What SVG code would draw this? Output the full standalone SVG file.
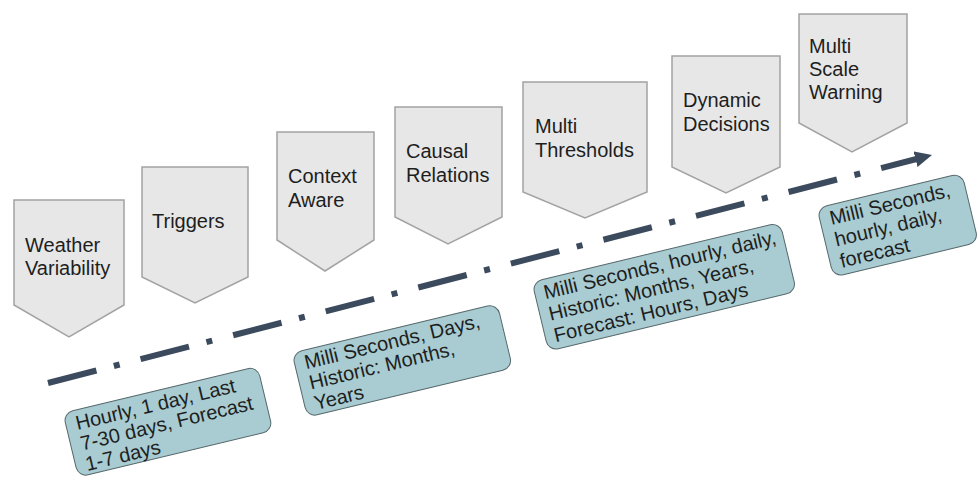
<svg xmlns="http://www.w3.org/2000/svg" width="978" height="480" viewBox="0 0 978 480">
<defs>
<style>
.pent{fill:#e7e7e7;stroke:#a3a3a3;stroke-width:1.5}
.box{fill:#a8ccd1;stroke:#56686c;stroke-width:1}
text{font-family:"Liberation Sans",Arial,sans-serif;font-size:20px;fill:#1e1e1e}
.flow{fill:none;stroke:#3c4a5d;stroke-width:6;stroke-dasharray:50 18 6 21.6}
</style>
<marker id="ah" markerUnits="userSpaceOnUse" markerWidth="18" markerHeight="18" refX="1" refY="8" orient="auto">
<path d="M0,0 L17,8 L0,16 Z" fill="#3c4a5d"/>
</marker>
</defs>
<rect width="978" height="480" fill="#ffffff"/>
<g id="connectors">
<path class="flow" d="M48,383 L916.5,159" marker-end="url(#ah)"/>
</g>
<g id="n-weather">
<polygon class="pent" points="14,200 124,200 124,305 69,337 14,305"/>
<text x="25" y="252">Weather</text>
<text x="25" y="275">Variability</text>
</g>
<g id="n-triggers">
<polygon class="pent" points="142,167 248,167 248,277 195,303 142,277"/>
<text x="152" y="228">Triggers</text>
</g>
<g id="n-context">
<polygon class="pent" points="277,132 374,132 374,240 325,271 277,240"/>
<text x="288" y="183">Context</text>
<text x="288" y="207">Aware</text>
</g>
<g id="n-causal">
<polygon class="pent" points="395,107 502,107 502,217 448,244 395,217"/>
<text x="406" y="158">Causal</text>
<text x="406" y="182">Relations</text>
</g>
<g id="n-thresholds">
<polygon class="pent" points="523,82 647,82 647,192 585,218 523,192"/>
<text x="535" y="133">Multi</text>
<text x="535" y="157">Thresholds</text>
</g>
<g id="n-dynamic">
<polygon class="pent" points="672,56 780,56 780,167 726,193 672,167"/>
<text x="683" y="107">Dynamic</text>
<text x="683" y="131">Decisions</text>
</g>
<g id="n-warning">
<polygon class="pent" points="799,14 907,14 907,123 852,152 799,123"/>
<text x="809" y="53">Multi</text>
<text x="809" y="76">Scale</text>
<text x="809" y="99">Warning</text>
</g>
<g id="b-1" transform="translate(63,413) rotate(-13.5)">
<rect class="box" x="0" y="0" width="200" height="66" rx="10"/>
<text x="10" y="20">Hourly, 1 day, Last</text>
<text x="10" y="41">7-30 days, Forecast</text>
<text x="10" y="62">1-7 days</text>
</g>
<g id="b-2" transform="translate(292,353) rotate(-13.5)">
<rect class="box" x="0" y="0" width="211" height="66" rx="10"/>
<text x="10" y="19">Milli Seconds, Days,</text>
<text x="10" y="40">Historic: Months,</text>
<text x="10" y="61">Years</text>
</g>
<g id="b-3" transform="translate(532,282) rotate(-13.5)">
<rect class="box" x="0" y="0" width="255" height="71" rx="10"/>
<text x="9" y="20">Milli Seconds, hourly, daily,</text>
<text x="9" y="42">Historic: Months, Years,</text>
<text x="9" y="64">Forecast: Hours, Days</text>
</g>
<g id="b-4" transform="translate(817,208) rotate(-13.5)">
<rect class="box" x="0" y="0" width="149" height="71" rx="10"/>
<text x="10" y="20">Milli Seconds,</text>
<text x="10" y="42">hourly, daily,</text>
<text x="10" y="64">forecast</text>
</g>
</svg>
